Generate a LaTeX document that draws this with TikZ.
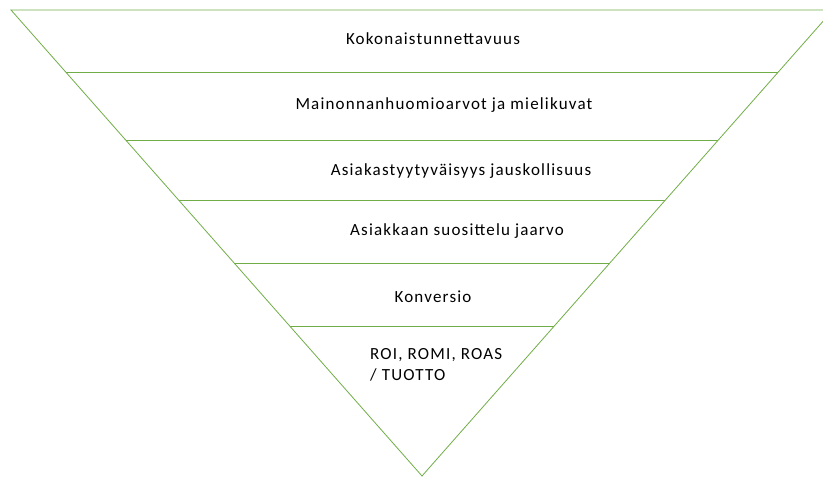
\documentclass[tikz,border=0pt]{standalone}
\usepackage{fontspec}
\setmainfont{Carlito}
\newfontfamily\stagefont[LetterSpace=7]{Carlito}
\usepackage{tikz}
\usetikzlibrary{calc, positioning}
\definecolor{funnelgreen}{RGB}{112,173,71}

\begin{document}
\begin{tikzpicture}[%
    ,x=1pt,y=1pt
    ,edge/.style = {%
        ,draw=funnelgreen
        ,line width=0.8pt
        }
    ,stage/.style = {%
        ,anchor=base
        ,inner sep=0pt
        ,font=\stagefont\fontsize{17}{22}\selectfont
        }
    ]
\useasboundingbox (0,0) rectangle (823,477);
\clip (0,0) rectangle (823,477);

\coordinate (tl)   at (11,467);
\coordinate (tr)   at (833,467);
\coordinate (apex) at (422,1);

\draw[edge] (tl) -- (tr) -- (apex) -- cycle;

% band borders
\foreach \y in {405,337,277,214,151}
    \draw[edge] ($(tl)!{(467-\y)/466}!(apex)$) -- ($(tr)!{(467-\y)/466}!(apex)$);

\node (koko) [stage] at (433,432) {Kokonaistunnettavuus};
\node (main) [stage] at (444,367) {Mainonnan\hspace{1pt}huomioarvot ja mielikuvat};
\node (tyyt) [stage] at (461,301) {Asiakastyytyväisyys ja\hspace{1pt}uskollisuus};
\node (suos) [stage] at (457,241) {Asiakkaan suosittelu ja\hspace{1pt}arvo};
\node (konv) [stage] at (433,174) {Konversio};
\node (roi)  [stage, anchor=base west] at (370,117) {ROI, ROMI, ROAS};
\node (tuotto) [stage, anchor=base west] at ($(roi.base west)+(0,-21)$) {/ TUOTTO};
\end{tikzpicture}
\end{document}
